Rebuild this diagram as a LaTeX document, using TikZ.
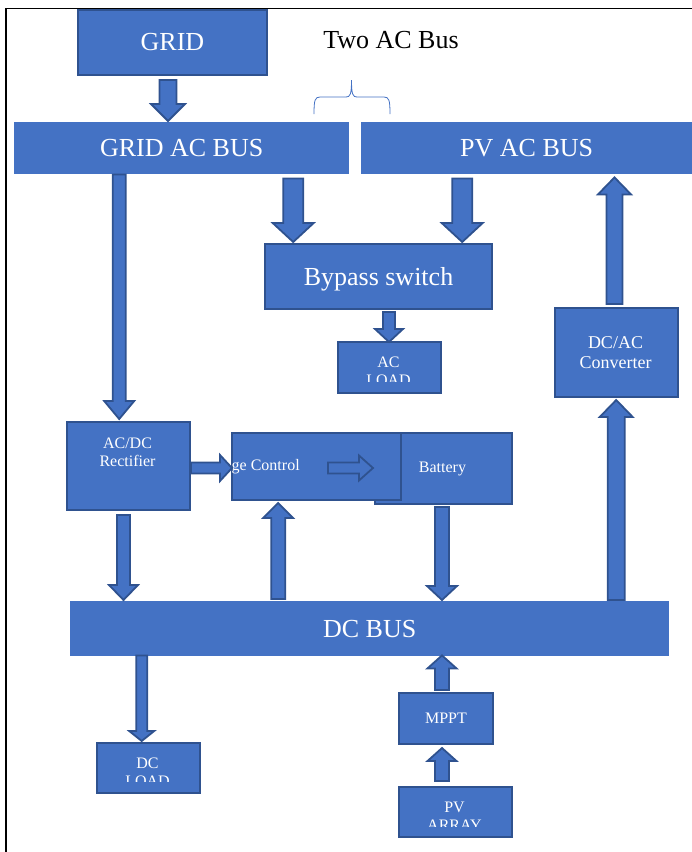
\documentclass[tikz,border=0pt]{standalone}
\usepackage{fontspec}
\setmainfont{Liberation Serif}
\usetikzlibrary{calc}
\definecolor{ofill}{HTML}{4472C4}
\definecolor{oline}{HTML}{2F528F}
\newcommand\bigtxt{\fontsize{26}{30}\selectfont}
\newcommand\smalltxt{\fontsize{16}{18}\selectfont}
\newcommand\midtxt{\fontsize{18}{20}\selectfont}
\tikzset{
  blk/.style={fill=ofill, draw=oline, line width=2pt, inner sep=0pt, anchor=north west, text=white, font=\smalltxt, align=center},
  busbox/.style={fill=ofill, draw=none, inner sep=0pt, anchor=north west, text=white, font=\bigtxt},
  lbl/.style={text=white, inner sep=0pt, font=\smalltxt, align=center},
  blockarrow/.style={fill=ofill, draw=oline, line width=1.8pt, line join=miter},
}
% vertical block arrow: tail, tip, shaft half width, head half width, head length
\newcommand\vbarrow[5]{%
  \draw[blockarrow] let \p1=(#1), \p2=(#2), \n1={ifthenelse(\y2>\y1,1,-1)} in
    ({\x1-#3},{\y1}) -- ({\x1-#3},{\y2-\n1*#5}) -- ({\x1-#4},{\y2-\n1*#5}) -- ({\x1},{\y2})
    -- ({\x1+#4},{\y2-\n1*#5}) -- ({\x1+#3},{\y2-\n1*#5}) -- ({\x1+#3},{\y1}) -- cycle;
}
% horizontal block arrow
\newcommand\hbarrow[5]{%
  \draw[blockarrow] let \p1=(#1), \p2=(#2), \n1={ifthenelse(\x2>\x1,1,-1)} in
    ({\x1},{\y1-#3}) -- ({\x2-\n1*#5},{\y1-#3}) -- ({\x2-\n1*#5},{\y1-#4}) -- ({\x2},{\y1})
    -- ({\x2-\n1*#5},{\y1+#4}) -- ({\x2-\n1*#5},{\y1+#3}) -- ({\x1},{\y1+#3}) -- cycle;
}
\begin{document}
\begin{tikzpicture}[x=1pt,y=-1pt]
\useasboundingbox (0,0) rectangle (692,852);
% frame
\draw[line width=1.6pt] (6,852) -- (6,8.5) -- (692,8.5);

% boxes
\node[blk, minimum width=189pt, minimum height=65pt, font=\bigtxt] (grid) at (77,9) {GRID};
\node[font=\bigtxt, inner sep=0pt] (title) at (391,40) {Two AC Bus};
\node[busbox, minimum width=335pt, minimum height=52pt] (gridbus) at (14,122) {GRID AC BUS};
\node[busbox, minimum width=331pt, minimum height=52pt] (pvbus) at (361,122) {PV AC BUS};
\node[blk, minimum width=227pt, minimum height=65pt, font=\bigtxt, text depth=0pt] (bypass) at (264,243) {Bypass switch};
\node[blk, minimum width=103pt, minimum height=51pt] (acload) at (337,341) {};
\node[blk, minimum width=123pt, minimum height=88pt] (acdc) at (66,421) {};
\node[blk, minimum width=137pt, minimum height=71pt] (battery) at (374,432) {};
\node[lbl] (batterytxt) at (442.5,469) {Battery};
\node[blk, minimum width=169pt, minimum height=67pt] (charge) at (231,432) {};
\node[lbl, anchor=west] (chargetxt) at (231.5,467) {ge Control};
\node[blk, minimum width=123pt, minimum height=89pt] (dcac) at (554,307) {};
\node[busbox, minimum width=599pt, minimum height=55pt] (dcbus) at (70,601) {DC BUS};
\node[blk, minimum width=103pt, minimum height=50pt] (dcload) at (96,742) {};
\node[blk, minimum width=94pt, minimum height=51pt] (mppt) at (398,692) {MPPT};
\node[blk, minimum width=113pt, minimum height=50pt] (pvarray) at (398,786) {};

% texts
\node[lbl] (acdctxt) at (127.5,452) {AC/DC\\Rectifier};
\node[lbl, font=\midtxt] (dcactxt) at (615.5,353) {DC/AC\\Converter};
\begin{scope}
  \clip (337,341) rectangle (440,381.5);
  \node[lbl] (acloadtxt) at (388.5,371) {AC\\LOAD};
\end{scope}
\begin{scope}
  \clip (96,742) rectangle (199,781.5);
  \node[lbl] (dcloadtxt) at (147.5,772) {DC\\LOAD};
\end{scope}
\begin{scope}
  \clip (398,786) rectangle (511,826.5);
  \node[lbl] (pvarraytxt) at (454.5,816.5) {PV\\ARRAY};
\end{scope}

% brace
\draw[ofill, line width=0.8pt] (314,114) .. controls (314,100) and (315,97) .. (320,97) -- (346,97)
  .. controls (350,97) and (351.5,95) .. (351.5,80)
  .. controls (351.5,95) and (353,97) .. (357,97) -- (384,97)
  .. controls (389,97) and (390,100) .. (390,114);

% block arrows
\vbarrow{$(grid.south)+(-4.5,4)$}{$(gridbus.north)+(-14.5,-1)$}{8.5pt}{17pt}{17pt}
\vbarrow{$(gridbus.south)+(-62.5,0)$}{$(acdc.north)+(-8.5,-2)$}{6.5pt}{15pt}{18pt}
\vbarrow{$(gridbus.south)+(111.5,4)$}{$(bypass.north)+(-84.5,-1)$}{10pt}{20.5pt}{19pt}
\vbarrow{$(pvbus.south)+(-64.5,4)$}{$(bypass.north)+(84.5,-1)$}{10pt}{20.5pt}{19pt}
\vbarrow{$(bypass.south)+(10.5,2)$}{$(acload.north)+(-0.5,1)$}{6pt}{14pt}{13pt}
\hbarrow{$(acdc.east)+(0,2)$}{$(charge.west)+(1,1.5)$}{5.5pt}{13pt}{12pt}
\vbarrow{$(acdc.south)+(-5,4)$}{$(dcbus.north)+(-247,-1)$}{6.5pt}{14.5pt}{15pt}
\vbarrow{$(dcbus.north)+(-91.5,-2)$}{$(charge.south)+(-37.5,2)$}{7pt}{15pt}{15pt}
\vbarrow{$(battery.south)+(-1.5,2)$}{$(dcbus.north)+(71.5,-1)$}{7pt}{15pt}{14pt}
\vbarrow{$(dcbus.north)+(246.5,-1)$}{$(dcac.south)+(0.5,2)$}{8.5pt}{16.5pt}{17pt}
\vbarrow{$(dcac.north)+(-2,-3)$}{$(pvbus.south)+(87,3)$}{8pt}{16.5pt}{17pt}
\vbarrow{$(dcbus.south)+(-228,-1)$}{$(dcload.north)+(-6,-1)$}{5.5pt}{12.5pt}{10pt}
\vbarrow{$(mppt.north)+(-4,-2)$}{$(dcbus.south)+(71.5,-1)$}{7pt}{14.5pt}{13pt}
\vbarrow{$(pvarray.north)+(-13.5,-5)$}{$(mppt.south)+(-4,3)$}{7pt}{14.5pt}{13pt}
\hbarrow{$(charge.center)+(11.5,1.5)$}{$(charge.center)+(56.5,1.5)$}{5.5pt}{12.5pt}{14pt}
\end{tikzpicture}
\end{document}
